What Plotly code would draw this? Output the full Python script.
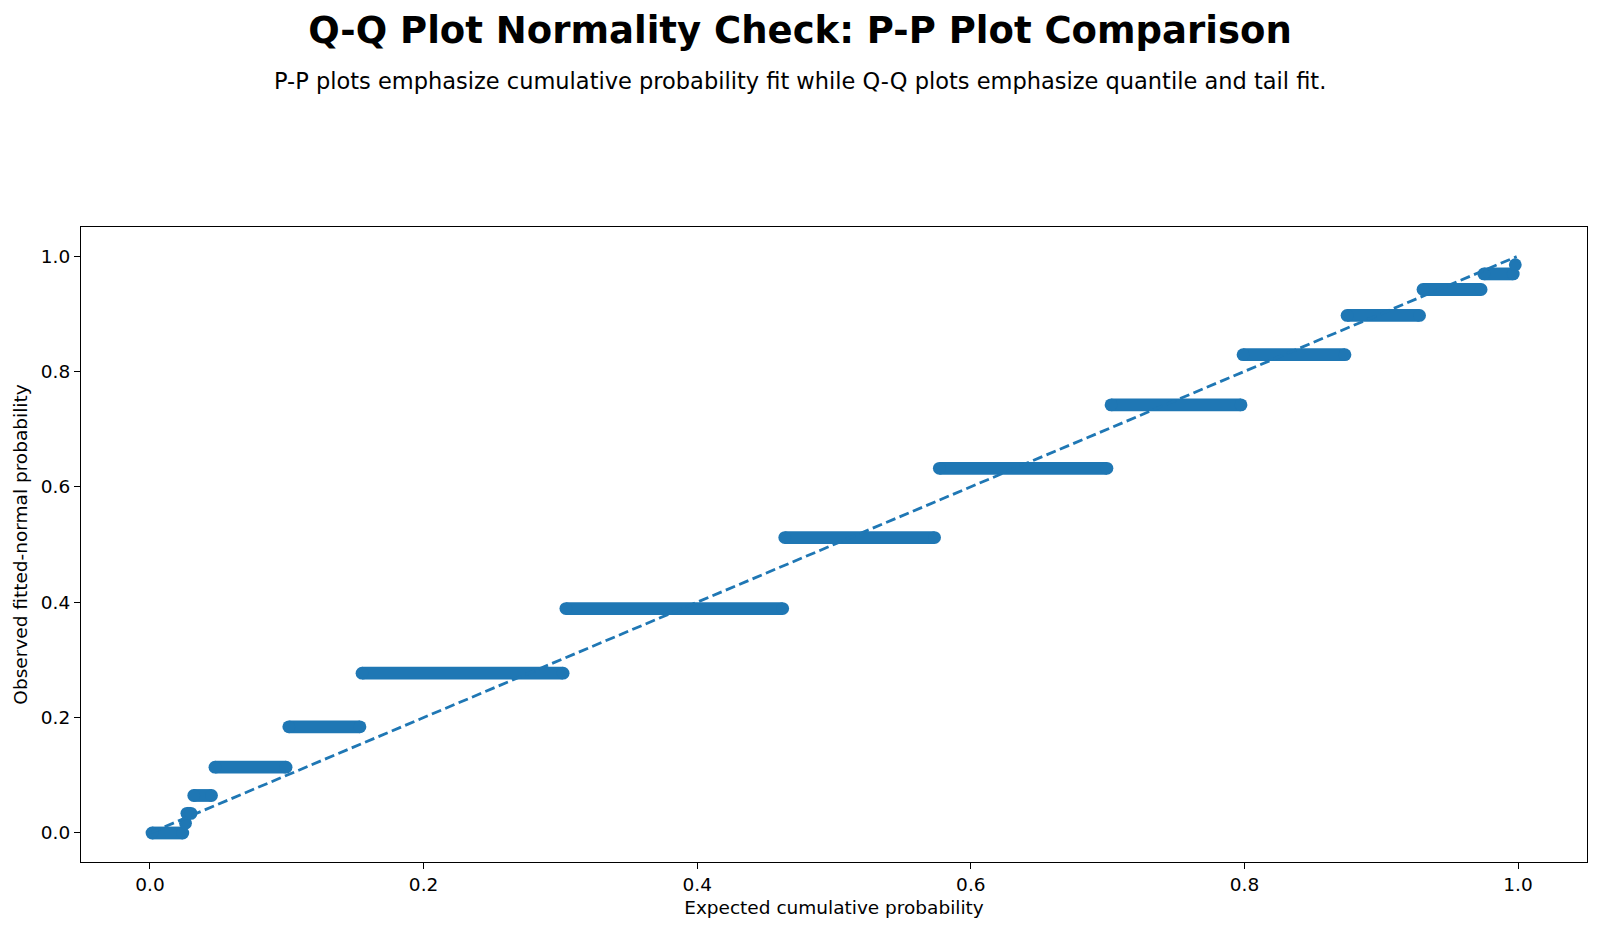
import plotly.graph_objects as go

# Step levels of the observed fitted-normal probability and the span of
# expected cumulative probabilities over which each level is observed
step_level = [0.000, 0.017, 0.034, 0.065, 0.114, 0.184, 0.277, 0.389, 0.512,
              0.632, 0.742, 0.829, 0.897, 0.942, 0.969, 0.985]
step_start = [0.0015, 0.026, 0.027, 0.032, 0.0475, 0.1015, 0.155, 0.304, 0.464,
              0.577, 0.7025, 0.799, 0.875, 0.9305, 0.975, 0.998]
step_end = [0.024, 0.026, 0.030, 0.045, 0.0995, 0.1535, 0.302, 0.4625, 0.5735,
            0.6995, 0.7975, 0.8735, 0.928, 0.973, 0.9965, 0.998]

# Reference (perfect fit) line
ref_x = [0.001, 0.999]
ref_y = [0.001, 0.999]

x_ticks = [0.0, 0.2, 0.4, 0.6, 0.8, 1.0]
y_ticks = [0.0, 0.2, 0.4, 0.6, 0.8, 1.0]

BLUE = "#1f77b4"

xs, ys = [], []
for s, e, lv in zip(step_start, step_end, step_level):
    if s == e:
        xs += [s, None]
        ys += [lv, None]
    else:
        xs += [s, e, None]
        ys += [lv, lv, None]

fig = go.Figure()
fig.add_trace(go.Scatter(
    x=xs, y=ys, mode="lines+markers",
    line=dict(color=BLUE, width=12.8),
    marker=dict(color=BLUE, size=12.8, line=dict(width=0)),
    connectgaps=False, showlegend=False, hoverinfo="skip",
))
fig.add_trace(go.Scatter(
    x=ref_x, y=ref_y, mode="lines",
    line=dict(color=BLUE, width=2.8, dash="10px,4.5px"),
    showlegend=False,
))

font_family = "DejaVu Sans"
fs = 18.5
fig.update_layout(
    width=1600, height=932,
    margin=dict(l=81, r=13, t=227, b=70),
    paper_bgcolor="white", plot_bgcolor="white",
    font=dict(family=font_family, color="black", size=fs),
    title=dict(
        text="<b>Q-Q Plot Normality Check: P-P Plot Comparison</b>",
        x=0.5, xref="container", xanchor="center",
        y=1 - 29.6 / 932, yref="container", yanchor="middle",
        font=dict(family=font_family, size=37, color="black"),
    ),
    annotations=[dict(
        text="P-P plots emphasize cumulative probability fit while Q-Q plots emphasize quantile and tail fit.",
        xref="paper", yref="paper",
        x=(800 - 81) / 1506, y=(862 - 80.6) / 635,
        xanchor="center", yanchor="middle", showarrow=False,
        font=dict(family=font_family, size=22.5, color="black"),
    )],
    xaxis=dict(
        range=[-0.0504, 1.0504], tickvals=x_ticks, tickformat=".1f",
        showgrid=False, zeroline=False,
        showline=True, linecolor="black", linewidth=1.2, mirror=True,
        ticks="outside", ticklen=6, tickwidth=1.2, tickcolor="black",
        tickfont=dict(size=fs),
        title=dict(text="Expected cumulative probability", font=dict(size=fs), standoff=6),
    ),
    yaxis=dict(
        range=[-0.0503, 1.0503], tickvals=y_ticks, tickformat=".1f",
        showgrid=False, zeroline=False,
        showline=True, linecolor="black", linewidth=1.2, mirror=True,
        ticks="outside", ticklen=6, tickwidth=1.2, tickcolor="black",
        tickfont=dict(size=fs),
        title=dict(text="Observed fitted-normal probability", font=dict(size=fs), standoff=8),
    ),
)

fig.write_html("out.html")
